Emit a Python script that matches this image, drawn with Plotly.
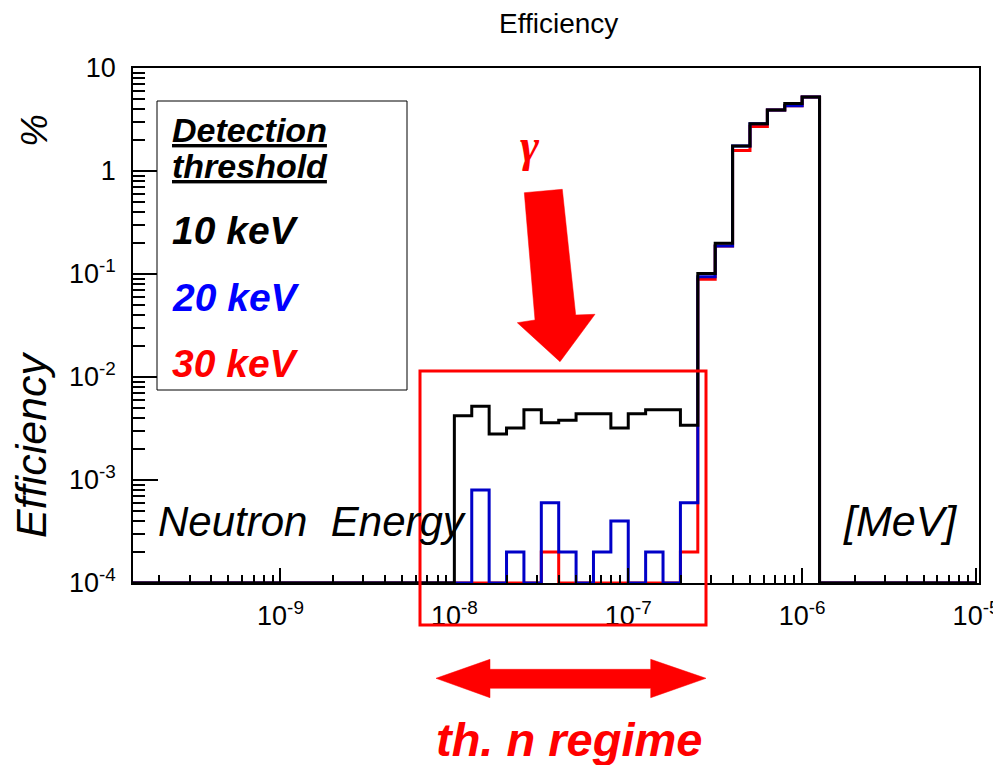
import numpy as np
import plotly.graph_objects as go

# ---------------- data ----------------
# histogram binning: 0.1-decade log bins from 1e-10 to 1e-5 MeV
edge_exp = np.round(np.arange(-10.0, -5.0 + 1e-9, 0.1), 1)
first_filled_bin = 20          # first non-empty bin starts at 1e-8 MeV
# efficiency (%) per bin, starting at first_filled_bin
eff_10keV = [4.2e-3, 5.2e-3, 2.8e-3, 3.2e-3, 4.8e-3, 3.6e-3, 3.8e-3, 4.4e-3, 4.4e-3,
             3.2e-3, 4.4e-3, 4.8e-3, 4.8e-3, 3.4e-3, 0.101, 0.199, 1.75, 2.88, 3.92,
             4.51, 5.22]
eff_20keV = [0, 8e-4, 0, 2e-4, 0, 6e-4, 2e-4, 0, 2e-4, 4e-4, 0, 2e-4, 0, 6e-4,
             0.094, 0.187, 1.75, 2.88, 3.92, 4.30, 5.22]
eff_30keV = [0, 0, 0, 0, 0, 2e-4, 0, 0, 0, 0, 0, 0, 0, 2e-4,
             0.089, 0.187, 1.58, 2.71, 3.92, 4.30, 5.22]
series = [("30 keV", eff_30keV, "#ff0000"),
          ("20 keV", eff_20keV, "#0000c8"),
          ("10 keV", eff_10keV, "#000000")]
x_tick_exp = [-9, -8, -7, -6, -5]
x_tick_text = ["10<sup>-9</sup>", "10<sup>-8</sup>", "10<sup>-7</sup>",
               "10<sup>-6</sup>", "10<sup>-5</sup>"]
y_tick_exp = [1, 0, -1, -2, -3, -4]
y_tick_text = ["10", "1", "10<sup>-1</sup>", "10<sup>-2</sup>",
               "10<sup>-3</sup>", "10<sup>-4</sup>"]
Y_FLOOR = 1e-4

# ---------------- layout geometry (pixels) ----------------
W, H = 993, 765
L, R, T, B = 133, 979, 68, 583
X_RANGE = [-9.848, -4.983]
Y_RANGE = [-4, 1]


def px(x):
    return (x - L) / (R - L)


def py(y):
    return (B - y) / (B - T)


edges = 10.0 ** edge_exp
nb = len(edges) - 1

fig = go.Figure()
for name, vals, col in series:
    full = np.zeros(nb)
    full[first_filled_bin:first_filled_bin + len(vals)] = vals
    yv = np.where(full > 0, full, Y_FLOOR)
    fig.add_trace(go.Scatter(
        x=edges, y=list(yv) + [yv[-1]], mode="lines", name=name,
        line=dict(color=col, width=3, shape="hv"), showlegend=False,
        hoverinfo="skip"))

minor_x = [k * 10.0 ** e for e in range(-10, -4) for k in range(2, 10)]
minor_y = [k * 10.0 ** e for e in range(-4, 1) for k in range(2, 10)]

FONT = "Liberation Sans"
fig.update_layout(
    width=W, height=H,
    margin=dict(l=L, r=W - R, t=T, b=H - B, pad=0, autoexpand=False),
    paper_bgcolor="white", plot_bgcolor="white",
    font=dict(family=FONT, color="black"),
    xaxis=dict(type="log", range=X_RANGE, tickmode="array", automargin=False,
               tickvals=[10.0 ** e for e in x_tick_exp], ticktext=x_tick_text,
               ticks="inside", ticklen=15, tickwidth=1.5, tickcolor="black",
               showline=True, linecolor="black", linewidth=1.5, mirror=True,
               showgrid=False, zeroline=False, ticklabelstandoff=8,
               ticklabeloverflow="allow",
               tickfont=dict(family=FONT, size=27, color="black"),
               minor=dict(tickmode="array", tickvals=minor_x, ticks="inside",
                          ticklen=8, tickwidth=1.5, tickcolor="black",
                          showgrid=False)),
    yaxis=dict(type="log", range=Y_RANGE, tickmode="array", automargin=False,
               tickvals=[10.0 ** e for e in y_tick_exp], ticktext=y_tick_text,
               ticks="inside", ticklen=25, tickwidth=1.5, tickcolor="black",
               showline=True, linecolor="black", linewidth=1.5, mirror=True,
               showgrid=False, zeroline=False, ticklabelstandoff=10,
               ticklabeloverflow="allow",
               tickfont=dict(family=FONT, size=27, color="black"),
               minor=dict(tickmode="array", tickvals=minor_y, ticks="inside",
                          ticklen=12, tickwidth=1.5, tickcolor="black",
                          showgrid=False)),
)

shapes = []
# legend box
shapes.append(dict(type="rect", xref="paper", yref="paper",
                   x0=px(157), x1=px(407), y0=py(390), y1=py(101),
                   line=dict(color="black", width=1), fillcolor="white",
                   layer="above"))
# red selection rectangle
shapes.append(dict(type="rect", xref="paper", yref="paper",
                   x0=px(420), x1=px(706), y0=py(625), y1=py(371),
                   line=dict(color="#ff0000", width=3), layer="above"))


def poly(points):
    s = "M " + " L ".join(f"{px(a):.5f},{py(b):.5f}" for a, b in points) + " Z"
    return dict(type="path", xref="paper", yref="paper", path=s,
                fillcolor="#ff0000", line=dict(color="#ff0000", width=0.5),
                layer="above")


shapes.append(poly([(524.3, 192.7), (562.3, 189.3), (575.7, 315), (595, 314.3),
                    (560, 361.7), (517.3, 322.7), (535, 320)]))
shapes.append(poly([(436, 678.3), (490, 659.3), (490, 669.3), (650.7, 669.3),
                    (650.7, 659.3), (706, 678.3), (650.7, 697.7), (650.7, 688.3),
                    (490, 688.3), (490, 697.7)]))
fig.update_layout(shapes=shapes)

ann = []


def text(t, x, y, size, color="black", xanchor="center", angle=0, family=FONT):
    ann.append(dict(text=t, x=px(x), y=py(y), xref="paper", yref="paper",
                    xanchor=xanchor, yanchor="middle", showarrow=False,
                    textangle=angle,
                    font=dict(family=family, size=size, color=color)))


text("Efficiency", 558, 24, 28)
text("<i>Efficiency</i>", 31, 445, 43, angle=-90)
text("<i>%</i>", 34, 131, 37, angle=-90)
text("<i>Neutron  Energy</i>", 156, 521, 42, xanchor="left")
text("<i>[MeV]</i>", 841, 521, 43, xanchor="left")
text("<b><i><u>Detection</u></i></b>", 170, 130, 34, xanchor="left")
text("<b><i><u>threshold</u></i></b>", 170, 166, 34, xanchor="left")
text("<b><i>10 keV</i></b>", 170, 230, 39, xanchor="left")
text("<b><i>20 keV</i></b>", 170, 297, 39, color="#0000ff", xanchor="left")
text("<b><i>30 keV</i></b>", 170, 363, 39, color="#ff0000", xanchor="left")
text("<b><i>γ</i></b>", 530, 145, 46, color="#ff0000", family="Liberation Serif")
text("<b><i>th. n regime</i></b>", 569, 739, 47, color="#ff0000")
fig.update_layout(annotations=ann)

fig.write_html("out.html")
